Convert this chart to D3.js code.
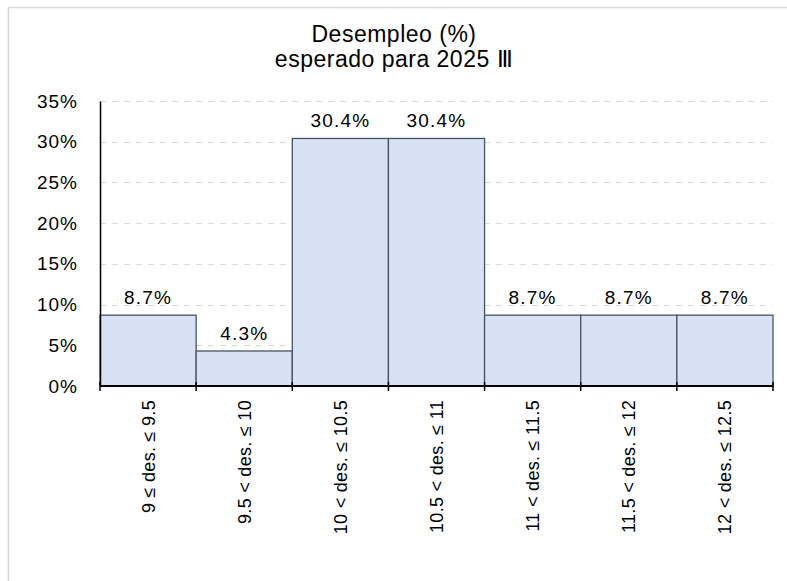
<!DOCTYPE html>
<html>
<head>
<meta charset="utf-8">
<script src="https://cdn.jsdelivr.net/npm/d3@7"></script>
<style>
  html, body { margin: 0; padding: 0; background: #fff; }
  svg { display: block; font-family: "Liberation Sans", Arial, sans-serif; }
</style>
</head>
<body>
<svg id="chart" width="787" height="581"></svg>
<script>
// Distribution of expected unemployment (%) for 2025 III
const categories = [
  "9 ≤ des. ≤ 9.5",
  "9.5 < des. ≤ 10",
  "10 < des. ≤ 10.5",
  "10.5 < des. ≤ 11",
  "11 < des. ≤ 11.5",
  "11.5 < des. ≤ 12",
  "12 < des. ≤ 12.5"
];
const shares = [8.7, 4.3, 30.4, 30.4, 8.7, 8.7, 8.7];
const yTicks = [0, 5, 10, 15, 20, 25, 30, 35];
const titleLines = ["Desempleo (%)", "esperado para 2025 Ⅲ"];

const svg = d3.select("#chart");
const margin = { left: 100, right: 14, top: 101, bottom: 195 };
const W = 787, H = 581;
const plotW = W - margin.left - margin.right;
const plotH = H - margin.top - margin.bottom;

// outer frame
svg.append("rect")
  .attr("x", 8.5).attr("y", 7.5)
  .attr("width", 800).attr("height", 600)
  .attr("fill", "none").attr("stroke", "#d9d9d9").attr("stroke-width", 1.5);

// title
svg.append("g").selectAll("text").data(titleLines).join("text")
  .attr("x", 394).attr("y", (d, i) => 42 + i * 25)
  .attr("text-anchor", "middle")
  .attr("font-size", 23).attr("fill", "#000")
  .attr("letter-spacing", 0.5)
  .text(d => d);

const g = svg.append("g").attr("transform", `translate(${margin.left},${margin.top})`);

const x = d3.scaleBand().domain(categories).range([0, plotW]).paddingInner(0).paddingOuter(0);
const y = d3.scaleLinear().domain([0, 35]).range([plotH, 0]);

// dashed gridlines
g.append("g").selectAll("line").data(yTicks.filter(t => t > 0)).join("line")
  .attr("x1", 0).attr("x2", plotW)
  .attr("y1", d => Math.round(y(d)) + 0.5).attr("y2", d => Math.round(y(d)) + 0.5)
  .attr("stroke", "#d9d9d9").attr("stroke-width", 1)
  .attr("stroke-dasharray", "6,6");

// bars
g.append("g").selectAll("rect").data(shares).join("rect")
  .attr("x", (d, i) => x(categories[i]))
  .attr("y", d => y(d))
  .attr("width", x.bandwidth())
  .attr("height", d => plotH - y(d))
  .attr("fill", "#d9e2f3")
  .attr("stroke", "#44546a").attr("stroke-width", 1.3);

// value labels
g.append("g").selectAll("text").data(shares).join("text")
  .attr("x", (d, i) => x(categories[i]) + x.bandwidth() / 2)
  .attr("y", d => y(d) - 11)
  .attr("text-anchor", "middle")
  .attr("font-size", 19).attr("letter-spacing", 1.2).attr("fill", "#000")
  .text(d => d.toFixed(1) + "%");

// y axis
const yAxis = g.append("g")
  .call(d3.axisLeft(y).tickValues(yTicks).tickSize(0).tickPadding(22).tickFormat(d => d + "%"));
yAxis.select(".domain").attr("stroke", "#000").attr("stroke-width", 1.5);
yAxis.selectAll("text")
  .attr("font-size", 19).attr("letter-spacing", 1)
  .attr("font-family", "Liberation Sans, Arial, sans-serif").attr("fill", "#000");

// x axis with ticks at bin boundaries
const edges = d3.range(categories.length + 1).map(i => i * x.step());
const xg = g.append("g").attr("transform", `translate(0,${plotH})`);
xg.append("line").attr("x1", 0).attr("x2", plotW).attr("y1", 0).attr("y2", 0)
  .attr("stroke", "#000").attr("stroke-width", 2);
xg.selectAll("line.tk").data(edges).join("line").attr("class", "tk")
  .attr("x1", d => d).attr("x2", d => d).attr("y1", -4).attr("y2", 5)
  .attr("stroke", "#000").attr("stroke-width", 1.5);
xg.selectAll("text").data(categories).join("text")
  .attr("transform", d => `translate(${x(d) + x.bandwidth() / 2 + 6.5},14) rotate(-90)`)
  .attr("text-anchor", "end")
  .attr("font-size", 18).attr("letter-spacing", 0.3).attr("fill", "#000")
  .text(d => d);
</script>
</body>
</html>
